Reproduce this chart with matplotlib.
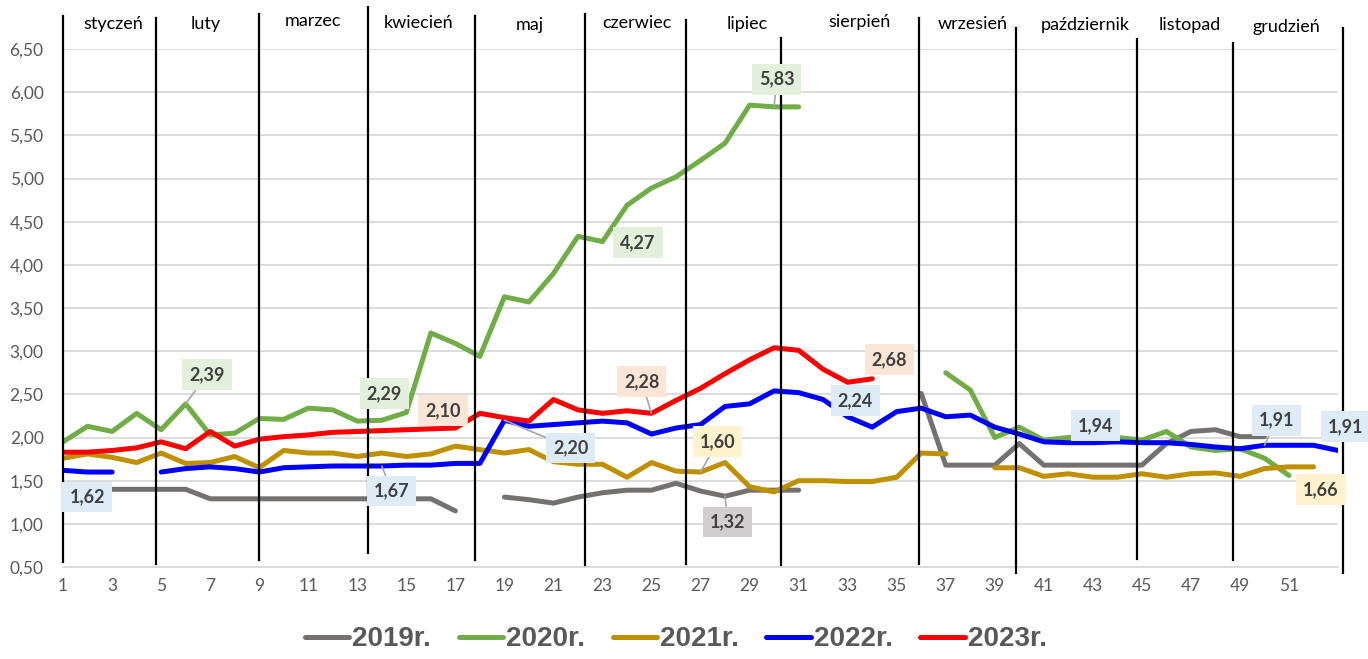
import numpy as np
import matplotlib
matplotlib.use("Agg")
import matplotlib.pyplot as plt

nan = np.nan

# tygodnie 1..53
weeks = np.arange(1, 54)

s2019 = [1.40, 1.40, 1.40, 1.40, 1.40, 1.40, 1.29, 1.29, 1.29, 1.29,
         1.29, 1.29, 1.29, 1.29, 1.29, 1.29, 1.15, nan, 1.31, 1.28,
         1.24, 1.31, 1.36, 1.39, 1.39, 1.47, 1.38, 1.32, 1.39, 1.39,
         1.39, nan, nan, nan, nan, 2.51, 1.68, 1.68, 1.68, 1.93,
         1.68, 1.68, 1.68, 1.68, 1.68, 1.93, 2.07, 2.09, 2.01, 2.01,
         nan, nan, nan]
s2020 = [1.95, 2.13, 2.07, 2.28, 2.09, 2.39, 2.03, 2.05, 2.22, 2.21,
         2.34, 2.32, 2.19, 2.20, 2.29, 3.21, 3.09, 2.94, 3.63, 3.57,
         3.90, 4.33, 4.27, 4.69, 4.89, 5.02, 5.21, 5.41, 5.85, 5.83,
         5.83, nan, nan, nan, nan, nan, 2.75, 2.55, 2.00, 2.12,
         1.97, 2.00, 2.03, 2.00, 1.97, 2.07, 1.89, 1.85, 1.87, 1.76,
         1.56, nan, nan]
s2021 = [1.76, 1.81, 1.77, 1.71, 1.82, 1.70, 1.71, 1.78, 1.65, 1.85,
         1.82, 1.82, 1.78, 1.82, 1.78, 1.81, 1.90, 1.86, 1.82, 1.86,
         1.72, 1.69, 1.69, 1.54, 1.71, 1.61, 1.60, 1.71, 1.43, 1.37,
         1.50, 1.50, 1.49, 1.49, 1.54, 1.82, 1.81, nan, 1.65, 1.65,
         1.55, 1.58, 1.54, 1.54, 1.58, 1.54, 1.58, 1.59, 1.55, 1.64,
         1.66, 1.66, nan]
s2022 = [1.62, 1.60, 1.60, nan, 1.60, 1.64, 1.66, 1.64, 1.60, 1.65,
         1.66, 1.67, 1.67, 1.67, 1.68, 1.68, 1.70, 1.70, 2.20, 2.13,
         2.15, 2.17, 2.19, 2.17, 2.04, 2.11, 2.15, 2.36, 2.39, 2.54,
         2.52, 2.44, 2.24, 2.12, 2.30, 2.34, 2.24, 2.26, 2.12, 2.04,
         1.95, 1.94, 1.94, 1.95, 1.94, 1.94, 1.92, 1.89, 1.87, 1.91,
         1.91, 1.91, 1.85]
s2023 = [1.83, 1.83, 1.85, 1.88, 1.95, 1.87, 2.07, 1.90, 1.98, 2.01,
         2.03, 2.06, 2.07, 2.08, 2.09, 2.10, 2.11, 2.28, 2.23, 2.19,
         2.44, 2.32, 2.28, 2.31, 2.28, 2.43, 2.57, 2.74, 2.90, 3.04,
         3.01, 2.79, 2.64, 2.68, nan, nan, nan, nan, nan, nan,
         nan, nan, nan, nan, nan, nan, nan, nan, nan, nan,
         nan, nan, nan]

series_names = ["2019r.", "2020r.", "2021r.", "2022r.", "2023r."]
series_values = [s2019, s2020, s2021, s2022, s2023]
colors = ["#767171", "#70AD47", "#BF9000", "#0000FF", "#FF0000"]
box_colors = ["#D0CECE", "#E2EFDA", "#FFF2CC", "#DDEBF7", "#FBE5D6"]

months = ["styczeń", "luty", "marzec", "kwiecień", "maj", "czerwiec",
          "lipiec", "sierpień", "wrzesień", "październik", "listopad", "grudzień"]

# pozycje opisow miesiecy i pionowych kresek (w jednostkach tygodni)
month_x = [3.04, 6.83, 11.2, 15.5, 20.05, 24.4, 28.9, 33.5, 38.1, 42.7, 46.96, 50.9]
month_y = [6.79, 6.79, 6.83, 6.80, 6.78, 6.80, 6.79, 6.81, 6.79, 6.78, 6.78, 6.76]
sep_x = [1.0, 4.79, 8.99, 13.44, 17.8, 22.29, 26.4, 30.28, 35.9, 39.87, 44.8, 48.7, 53.2]
sep_top = [6.88, 6.86, 6.90, 6.99, 6.88, 6.90, 6.84, 6.63, 6.86, 6.74, 6.62, 6.57, 6.74]
sep_bot = [0.56, 0.54, 0.58, 0.66, 0.58, 0.52, 0.54, 0.52, 0.54, 0.43, 0.59, 0.58, 0.43]

# etykiety: (seria, tydzien, x etykiety, y etykiety, linia odniesienia)
labels = [
    (1, 6, 6.87, 2.73, True),
    (1, 15, 14.09, 2.51, False),
    (4, 16, 16.5, 2.31, False),
    (3, 1, 1.98, 1.31, False),
    (3, 14, 14.4, 1.38, True),
    (3, 19, 21.7, 1.88, True),
    (4, 25, 24.6, 2.65, True),
    (2, 27, 27.7, 1.95, True),
    (0, 28, 28.1, 1.02, True),
    (1, 23, 24.45, 4.26, False),
    (1, 30, 30.1, 6.15, True),
    (4, 34, 34.7, 2.90, False),
    (3, 33, 33.3, 2.43, False),
    (3, 43, 43.1, 2.14, False),
    (3, 50, 50.5, 2.20, True),
    (3, 52, 53.3, 2.13, False),
    (2, 52, 52.3, 1.40, False),
]

fig = plt.figure(figsize=(13.68, 6.59), dpi=100)
ax = fig.add_axes([0.0461, 0.1396, 0.9320, 0.7860])

for name, vals, c in zip(series_names, series_values, colors):
    ax.plot(weeks, vals, color=c, lw=3.6, label=name,
            solid_joinstyle="round", solid_capstyle="round", zorder=3)

ax.set_xlim(1, 53)
ax.set_ylim(0.5, 6.5)
ax.set_yticks(np.arange(0.5, 6.51, 0.5))
ax.set_yticklabels([f"{v:.2f}".replace(".", ",") for v in np.arange(0.5, 6.51, 0.5)])
ax.set_xticks(np.arange(1, 52, 2))
ax.tick_params(length=0, labelsize=12.5, labelcolor="#595959")
ax.tick_params(axis="y", pad=14)
ax.tick_params(axis="x", pad=8)
for t in ax.get_xticklabels() + ax.get_yticklabels():
    t.set_family("Lato")
ax.grid(axis="y", color="#D9D9D9", lw=1.3)
ax.set_axisbelow(True)
for s in ["top", "right", "left"]:
    ax.spines[s].set_visible(False)
ax.spines["bottom"].set_color("#D9D9D9")
ax.spines["bottom"].set_linewidth(1.3)

# kreski miesiecy
for x, t, b in zip(sep_x, sep_top, sep_bot):
    ax.plot([x, x], [b, t], color="black", lw=1.6, clip_on=False, zorder=4)
for m, x, y in zip(months, month_x, month_y):
    ax.text(x, y, m, ha="center", va="center", fontsize=13, family="Lato",
            color="black", clip_on=False)

# etykiety danych
for si, w, lx, ly, lead in labels:
    v = series_values[si][w - 1]
    txt = f"{v:.2f}".replace(".", ",")
    ax.annotate(txt, xy=(w, v), xytext=(lx, ly), ha="center", va="center",
                fontsize=13, fontweight="bold", family="Lato", color="#404040",
                bbox=dict(boxstyle="square,pad=0.38", fc=box_colors[si], ec="none"),
                arrowprops=dict(arrowstyle="-", color="#A6A6A6", lw=1.2,
                                shrinkA=0, shrinkB=0) if lead else None,
                annotation_clip=False, zorder=5)

leg = fig.legend(loc="center", bbox_to_anchor=(0.494, 0.030), ncol=5, frameon=False,
                 handlelength=1.6, handletextpad=0.1, columnspacing=1.0,
                 prop={"family": "Liberation Sans", "weight": "bold", "size": 20})
for t in leg.get_texts():
    t.set_color("#595959")
for h in leg.get_lines():
    h.set_linewidth(3.6)

fig.savefig("out.png", dpi=100)
